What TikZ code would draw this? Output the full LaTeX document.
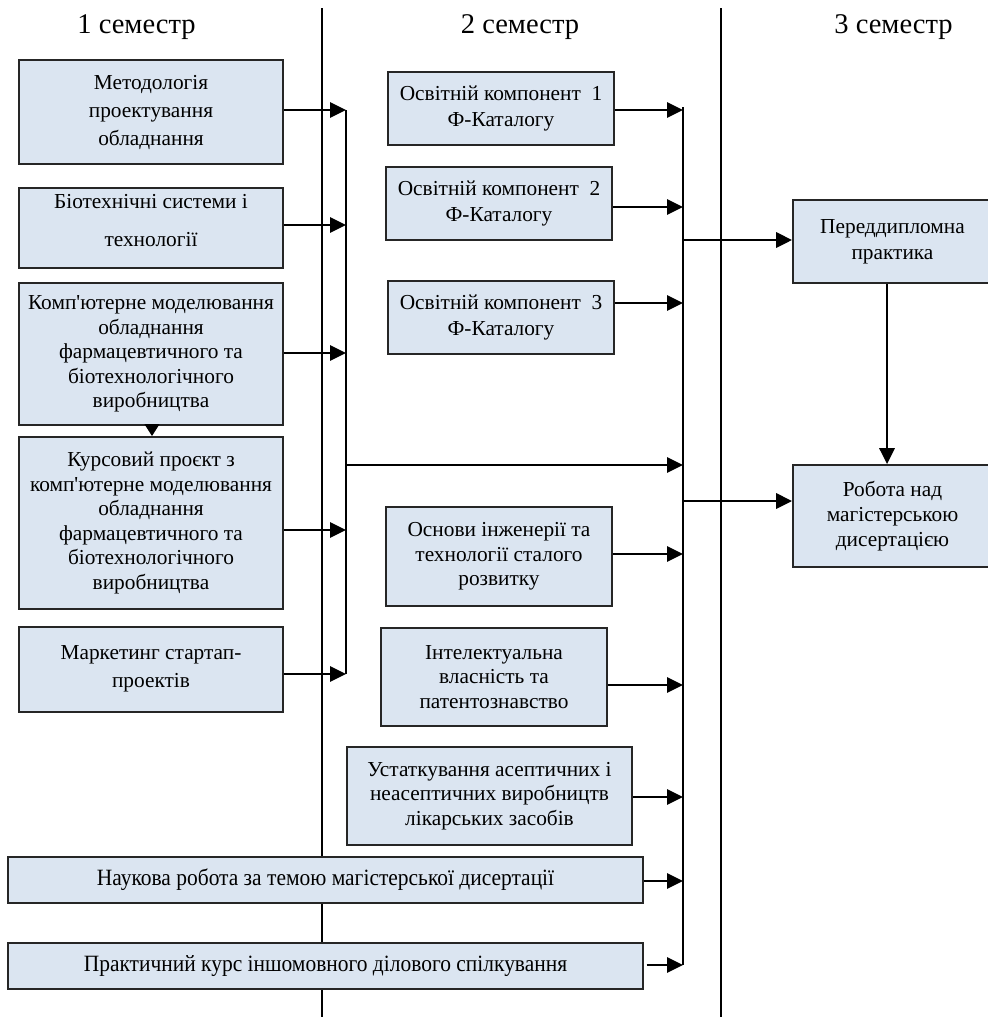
\documentclass[tikz,border=0pt]{standalone}
\usepackage{fontspec}
\setmainfont{Liberation Serif}[Ligatures=TeXOff]
\newfontfamily\condfont{Liberation Serif}[FakeStretch=0.92,Ligatures=TeXOff]
\usetikzlibrary{arrows.meta}
\definecolor{boxfill}{RGB}{219,229,241}
\tikzset{
 box/.style={draw=black!85, line width=1.4pt, fill=boxfill, inner sep=0pt, align=center, font=\fontsize{16}{18.4}\selectfont},
 conn/.style={line width=1.7pt, -{Triangle[length=12pt,width=11.5pt]}},
 smallconn/.style={line width=1.5pt, -{Triangle[length=9pt,width=11pt]}},
 bus/.style={line width=1.5pt},
 sep/.style={line width=0.9pt},
 head/.style={font=\fontsize{21.4}{24}\selectfont, inner sep=0pt},
}
\newcommand\bx[7]{\node[box,minimum width={(#4-#2)*0.75pt},minimum height={(#5-#3)*0.75pt},#6] (#1) at ({(#2+#4)/2},{(#3+#5)/2}) {#7};}
\begin{document}
\begin{tikzpicture}[x=0.75pt,y=-0.75pt]
\useasboundingbox (0,0) rectangle (988,1017);
% headings
\node[head] (h1) at (136.5,27) {1 семестр};
\node[head] (h2) at (520,27) {2 семестр};
\node[head] (h3) at (893.5,27) {3 семестр};
% separators
\coordinate (s1t) at (322,8); \coordinate (s1b) at (322,1017);
\coordinate (s2t) at (721,8); \coordinate (s2b) at (721,1017);
\draw[sep] (s1t) -- (s1b);
\draw[sep] (s2t) -- (s2b);
% semester 1
\bx{m1}{19}{60}{283}{164}{font=\fontsize{16}{21}\selectfont}{Методологія\\проектування\\обладнання}
\bx{m2}{19}{188}{283}{268}{font=\fontsize{16}{28.5}\selectfont}{Біотехнічні системи і\\технології\rule[-12pt]{0pt}{0pt}}
\bx{m3}{19}{283}{283}{425}{}{Комп'ютерне моделювання\\обладнання\\фармацевтичного та\\біотехнологічного\\виробництва}
\bx{m4}{19}{437}{283}{609}{}{Курсовий проєкт з\\комп'ютерне моделювання\\обладнання\\фармацевтичного та\\біотехнологічного\\виробництва}
\bx{m5}{19}{627}{283}{712}{font=\fontsize{16}{21}\selectfont}{Маркетинг стартап-\\проектів\rule[-4pt]{0pt}{0pt}}
% semester 2
\bx{o1}{388}{72}{614}{145}{font=\fontsize{16}{19.5}\selectfont}{Освітній компонент\ \ 1\\Ф-Каталогу}
\bx{o2}{386}{167}{612}{240}{font=\fontsize{16}{19.5}\selectfont}{Освітній компонент\ \ 2\\Ф-Каталогу}
\bx{o3}{388}{281}{614}{354}{font=\fontsize{16}{19.5}\selectfont}{Освітній компонент\ \ 3\\Ф-Каталогу}
\bx{o4}{386}{507}{612}{606}{}{Основи інженерії та\\технології сталого\\розвитку}
\bx{o5}{381}{628}{607}{726}{}{Інтелектуальна\\власність та\\патентознавство}
\bx{o6}{347}{747}{632}{845}{}{Устаткування асептичних і\\неасептичних виробництв\\лікарських засобів}
\bx{b1}{8}{857}{643}{903}{font=\condfont\fontsize{17.5}{20}\selectfont}{Наукова робота за темою магістерської дисертації}
\bx{b2}{8}{943}{643}{989}{font=\condfont\fontsize{17.5}{20}\selectfont}{Практичний курс іншомовного ділового спілкування}
% semester 3
\bx{r1}{793}{200}{992}{283}{font=\fontsize{16}{19.5}\selectfont}{Переддипломна\\практика\rule[-3pt]{0pt}{0pt}}
\bx{r2}{793}{465}{992}{567}{font=\fontsize{16}{18.8}\selectfont}{Робота над\\магістерською\\дисертацією}
% left bus
\coordinate (L1) at (346,110);
\coordinate (L2) at (346,225);
\coordinate (L3) at (346,353);
\coordinate (L4) at (346,530);
\coordinate (L5) at (346,674);
\coordinate (LX) at (346,465);
\draw[bus] (L1) -- (L5);
\draw[conn] (m1.east |- L1) -- (L1);
\draw[conn] (m2.east |- L2) -- (L2);
\draw[conn] (m3.east |- L3) -- (L3);
\draw[conn] (m4.east |- L4) -- (L4);
\draw[conn] (m5.east |- L5) -- (L5);
\draw[smallconn] (m3.south -| 152,0) -- (m4.north -| 152,0);
% right bus
\coordinate (R0) at (683,107);
\coordinate (R1) at (683,110);
\coordinate (R2) at (683,207);
\coordinate (R3) at (683,303);
\coordinate (RX) at (683,465);
\coordinate (R4) at (683,554);
\coordinate (R5) at (683,685);
\coordinate (R6) at (683,797);
\coordinate (R7) at (683,881);
\coordinate (R8) at (683,965);
\coordinate (Q1) at (683,240);
\coordinate (Q2) at (683,501);
\draw[bus] (R0) -- (R8);
\draw[conn] (o1.east |- R1) -- (R1);
\draw[conn] (o2.east |- R2) -- (R2);
\draw[conn] (o3.east |- R3) -- (R3);
\draw[conn] (LX) -- (RX);
\draw[conn] (o4.east |- R4) -- (R4);
\draw[conn] (o5.east |- R5) -- (R5);
\draw[conn] (o6.east |- R6) -- (R6);
\draw[conn] (b1.east |- R7) -- (R7);
\draw[conn] ([xshift=2pt]b2.east |- R8) -- (R8);
\draw[conn] (Q1) -- (r1.west |- Q1);
\draw[conn] (Q2) -- (r2.west |- Q2);
\draw[conn] (r1.south -| 887,0) -- (r2.north -| 887,0);
\end{tikzpicture}
\end{document}
